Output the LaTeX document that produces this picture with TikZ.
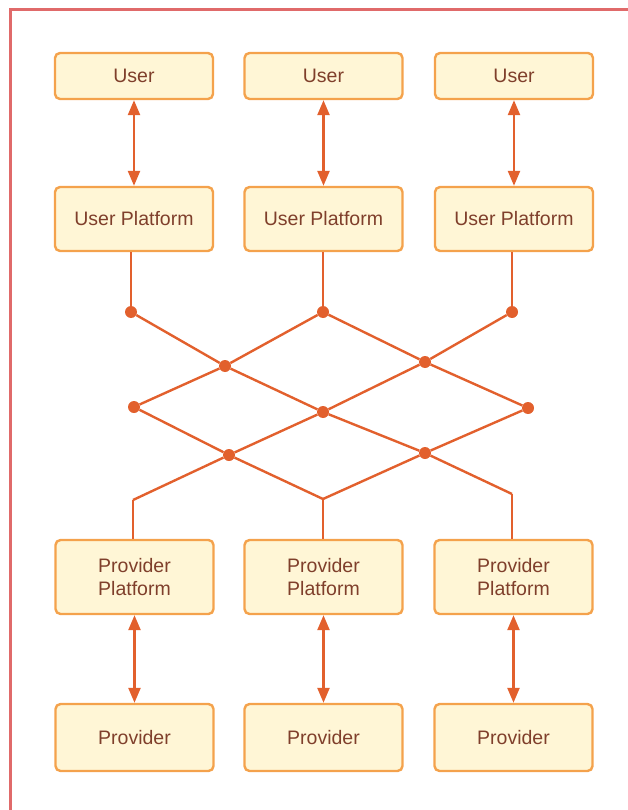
\documentclass[tikz,border=0pt]{standalone}
\usepackage{fontspec}
\setmainfont{Liberation Sans}
\usetikzlibrary{arrows.meta}

\definecolor{boxfill}{HTML}{FFF6D6}
\definecolor{boxline}{HTML}{F4A24C}
\definecolor{boxtext}{HTML}{7F3F2B}
\definecolor{linkcol}{HTML}{E2602D}
\definecolor{framecol}{HTML}{E06A6A}

\begin{document}
\begin{tikzpicture}[x=1pt,y=-1pt,
		box/.style={draw=boxline,fill=boxfill,line width=2.4pt,rounded corners=5pt,
			minimum width=158pt,align=center,text=boxtext,
			font=\fontsize{19.5}{23}\selectfont},
		link/.style={draw=linkcol,line width=2.4pt},
		dot/.style={circle,fill=linkcol,inner sep=0pt,minimum size=12pt},
		tip/.style={{Triangle[length=15pt,width=12pt]}-{Triangle[length=15pt,width=12pt]}}]
				\useasboundingbox (0,0) rectangle (627,810);
				\draw[framecol,line width=3pt] (10,10) rectangle (700,900);
				
				\node[box,minimum height=46pt] (U1) at (134,76) {User};
				\node[box,minimum height=46pt] (U2) at (323.5,76) {User};
				\node[box,minimum height=46pt] (U3) at (514,76) {User};
				\node[box,minimum height=64pt] (UP1) at (134,219) {User Platform};
				\node[box,minimum height=64pt] (UP2) at (323.5,219) {User Platform};
				\node[box,minimum height=64pt] (UP3) at (514,219) {User Platform};
				\node[box,minimum height=74pt] (PP1) at (134.5,577) {Provider\\Platform};
				\node[box,minimum height=74pt] (PP2) at (323.5,577) {Provider\\Platform};
				\node[box,minimum height=74pt] (PP3) at (513.5,577) {Provider\\Platform};
				\node[box,minimum height=67pt] (P1) at (134.5,737.5) {Provider};
				\node[box,minimum height=67pt] (P2) at (323.5,737.5) {Provider};
				\node[box,minimum height=67pt] (P3) at (513.5,737.5) {Provider};
				
				\node[dot] (a1) at (131,312) {};
				\node[dot] (a2) at (323,312) {};
				\node[dot] (a3) at (512,312) {};
				\node[dot] (c1) at (225,366) {};
				\node[dot] (c2) at (425,362) {};
				\node[dot] (m1) at (134,407) {};
				\node[dot] (m2) at (323,412) {};
				\node[dot] (m3) at (528,408) {};
				\node[dot] (d1) at (229,455) {};
				\node[dot] (d2) at (425,453) {};
				\coordinate (b1) at (133,500);
				\coordinate (b2) at (323,499);
				\coordinate (b3) at (512,494);
				
				\draw[link,tip] (U1)--(UP1);
				\draw[link,tip] (U2)--(UP2);
				\draw[link,tip] (U3)--(UP3);
				\draw[link,tip] (PP1)--(P1);
				\draw[link,tip] (PP2)--(P2);
				\draw[link,tip] (PP3)--(P3);
				
				\draw[link] (a1 |- UP1.south)--(a1);
				\draw[link] (a2 |- UP2.south)--(a2);
				\draw[link] (a3 |- UP3.south)--(a3);
				\draw[link] (a1)--(c1)--(m2)--(d2)--(b3);
				\draw[link] (a2)--(c1)--(m1);
				\draw[link] (a2)--(c2)--(m3);
				\draw[link] (a3)--(c2)--(m2)--(d1)--(b1);
				\draw[link] (m1)--(d1)--(b2);
				\draw[link] (m3)--(d2)--(b2);
				\draw[link] (b1)--(b1 |- PP1.north);
				\draw[link] (b2)--(b2 |- PP2.north);
				\draw[link] (b3)--(b3 |- PP3.north);
			\end{tikzpicture}
\end{document}
